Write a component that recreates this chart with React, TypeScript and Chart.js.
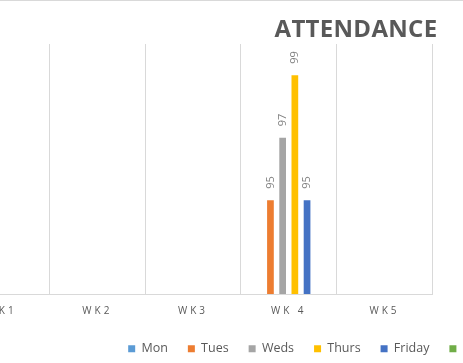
import React, { useEffect, useRef } from "react";
import { Chart, registerables } from "chart.js";

Chart.register(...registerables);

const weeks = ["WK1", "WK2", "WK3", "WK 4", "WK5"];
const seriesNames = ["Mon", "Tues", "Weds", "Thurs", "Friday", "Sat"];
const seriesColors = ["#5B9BD5", "#ED7D31", "#A5A5A5", "#FFC000", "#4472C4", "#70AD47"];
const monValues = [null, null, null, null, null];
const tuesValues = [null, null, null, 95, null];
const wedsValues = [null, null, null, 97, null];
const thursValues = [null, null, null, 99, null];
const fridayValues = [null, null, null, 95, null];
const satValues = [null, null, null, null, null];
const yMin = 92;
const yMax = 100;
const chartTitle = "ATTENDANCE";

const OFFSET_X = 100;
const CANVAS_W = 760;
const CANVAS_H = 365;

const titlePlugin = {
  id: "customTitle",
  afterDraw(chart: any) {
    const ctx = chart.ctx;
    ctx.save();
    ctx.font = 'bold 24px "Open Sans"';
    ctx.fillStyle = "#595959";
    (ctx as any).letterSpacing = "0.3px";
    ctx.textAlign = "center";
    ctx.textBaseline = "alphabetic";
    ctx.fillText(chartTitle, OFFSET_X + 356, 37);
    ctx.restore();
  },
};

const dataLabelPlugin = {
  id: "barLabels",
  afterDatasetsDraw(chart: any) {
    const ctx = chart.ctx;
    chart.data.datasets.forEach((ds: any, di: number) => {
      const meta = chart.getDatasetMeta(di);
      meta.data.forEach((el: any, i: number) => {
        const v = ds.data[i];
        if (v === null || v === undefined) return;
        ctx.save();
        ctx.translate(el.x, el.y - 11.5);
        ctx.rotate(-Math.PI / 2);
        ctx.font = '11px "Open Sans"';
        ctx.fillStyle = "#7F7F7F";
        ctx.textAlign = "left";
        ctx.textBaseline = "middle";
        ctx.fillText(String(v), 0, 0);
        ctx.restore();
      });
    });
  },
};

export default function App() {
  const ref = useRef<HTMLCanvasElement | null>(null);
  useEffect(() => {
    if (!ref.current) return;
    const allValues = [monValues, tuesValues, wedsValues, thursValues, fridayValues, satValues];
    const chart = new Chart(ref.current, {
      type: "bar",
      data: {
        labels: weeks,
        datasets: seriesNames.map((name, i) => ({
          label: name,
          data: allValues[i],
          backgroundColor: seriesColors[i],
          borderWidth: 0,
          categoryPercentage: 0.765,
          barPercentage: 0.55,
        })),
      },
      options: {
        animation: false,
        responsive: false,
        maintainAspectRatio: false,
        layout: { padding: { left: OFFSET_X - 46.2, right: 4.7, top: 44, bottom: 0 } },
        plugins: {
          title: { display: false },
          tooltip: { enabled: false },
          legend: {
            display: true,
            position: "bottom",
            align: "center",
            labels: {
              boxWidth: 7,
              boxHeight: 7,
              padding: 20,
              color: "#595959",
              font: { family: "Open Sans", size: 12.5 },
            },
          },
        },
        scales: {
          x: {
            offset: true,
            grid: { offset: true, color: "#D9D9D9", lineWidth: 1, drawTicks: false },
            border: { display: true, color: "#D9D9D9" },
            ticks: {
              color: "#595959",
              font: { family: "Open Sans", size: 10 },
              padding: 11.5,
              maxRotation: 0,
              autoSkip: false,
            },
            afterFit: (s: any) => {
              s.height = 28.5;
            },
            afterUpdate: (s: any) => {
              if (!s.__ls) {
                const orig = s.drawLabels.bind(s);
                s.drawLabels = (area: any) => {
                  s.ctx.save();
                  (s.ctx as any).letterSpacing = "3px";
                  orig(area);
                  s.ctx.restore();
                };
                s.__ls = true;
              }
            },
          },
          y: {
            position: "right",
            min: yMin,
            max: yMax,
            display: true,
            grid: { display: false, drawTicks: false },
            border: { display: false },
            ticks: { display: false },
            afterFit: (s: any) => {
              s.width = 223;
            },
          },
        },
      },
      plugins: [titlePlugin, dataLabelPlugin],
    });
    return () => chart.destroy();
  }, []);

  return (
    <div
      style={{
        position: "absolute",
        left: 0,
        top: 0,
        width: 463,
        height: 363,
        overflow: "hidden",
        background: "#ffffff",
      }}
    >
      <canvas
        ref={ref}
        width={CANVAS_W}
        height={CANVAS_H}
        style={{ position: "absolute", left: -OFFSET_X, top: 0, width: CANVAS_W, height: CANVAS_H }}
      />
      <div style={{ position: "absolute", left: 0, top: 0, width: 463, height: 1, background: "#D9D9D9" }} />
    </div>
  );
}
